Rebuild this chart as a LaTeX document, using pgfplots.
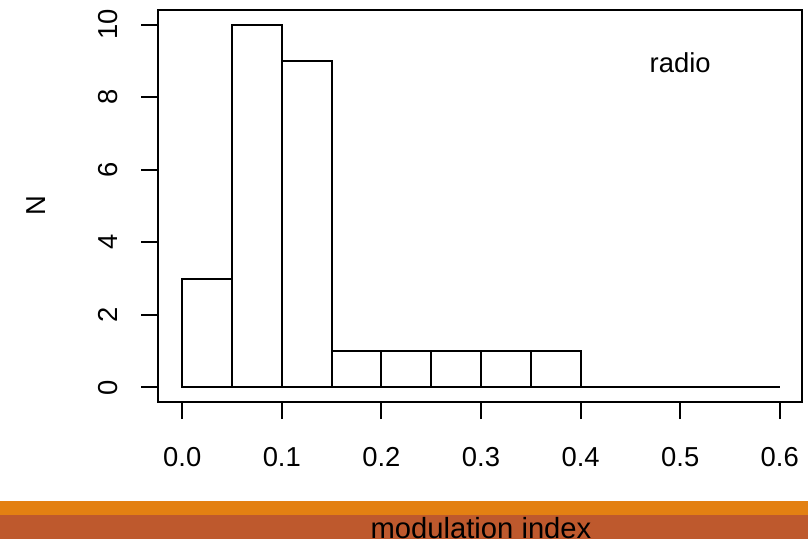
\documentclass[border=0pt]{standalone}
\usepackage{pgfplots}
\pgfplotsset{compat=1.18}
\usepackage{fontspec}
\setmainfont{Liberation Sans}
\definecolor{bandorange}{RGB}{227,128,18}
\definecolor{bandbrown}{RGB}{190,89,45}
\begin{document}
\fontsize{13.7pt}{16pt}\selectfont
\begin{tikzpicture}
\begin{scope}[x=0.5pt,y=-0.5pt]
\path[use as bounding box] (0,0) rectangle (808,539);
\fill[bandorange] (0,501) rectangle (808,515);
\fill[bandbrown] (0,515) rectangle (808,540);
\node[anchor=base,inner sep=0pt,font=\fontsize{14.6pt}{17pt}\selectfont] at (481,538.5) {modulation index};
\end{scope}
\begin{axis}[
  at={(79.15pt,-201pt)}, anchor=south west,
  scale only axis,
  width=321.7pt, height=196pt,
  xmin=-0.024, xmax=0.622,
  ymin=-0.4, ymax=10.4,
  axis line style={line width=1pt},
  every tick/.style={line width=1pt,black},
  tick align=outside,
  major tick length=8.5pt,
  xtick={0,0.1,...,0.6},
  ytick={0,2,4,6,8,10},
  xtick pos=bottom, ytick pos=left,
  xticklabels={0.0,0.1,0.2,0.3,0.4,0.5,0.6},
  yticklabels={0,2,4,6,8,10},
  xticklabel style={anchor=base,yshift=-23.5pt,font=\fontsize{13.7pt}{16pt}\selectfont},
  yticklabel style={xshift=-12pt,rotate=90,anchor=base,font=\fontsize{13.7pt}{16pt}\selectfont},
  ylabel={N},
  every axis y label/.style={at={(axis description cs:-0.176,0.5)},rotate=90,anchor=base,font=\fontsize{13.7pt}{16pt}\selectfont},
]
\addplot[ybar interval, draw=black, fill=white, line width=1pt] coordinates {
(0,3) (0.05,10) (0.1,9) (0.15,1) (0.2,1) (0.25,1) (0.3,1) (0.35,1) (0.4,0) (0.45,0) (0.5,0) (0.55,0) (0.6,0)};
\node[anchor=base,font=\fontsize{13.7pt}{16pt}\selectfont] at (axis cs:0.5,8.69) {radio};
\end{axis}
\end{tikzpicture}
\end{document}
